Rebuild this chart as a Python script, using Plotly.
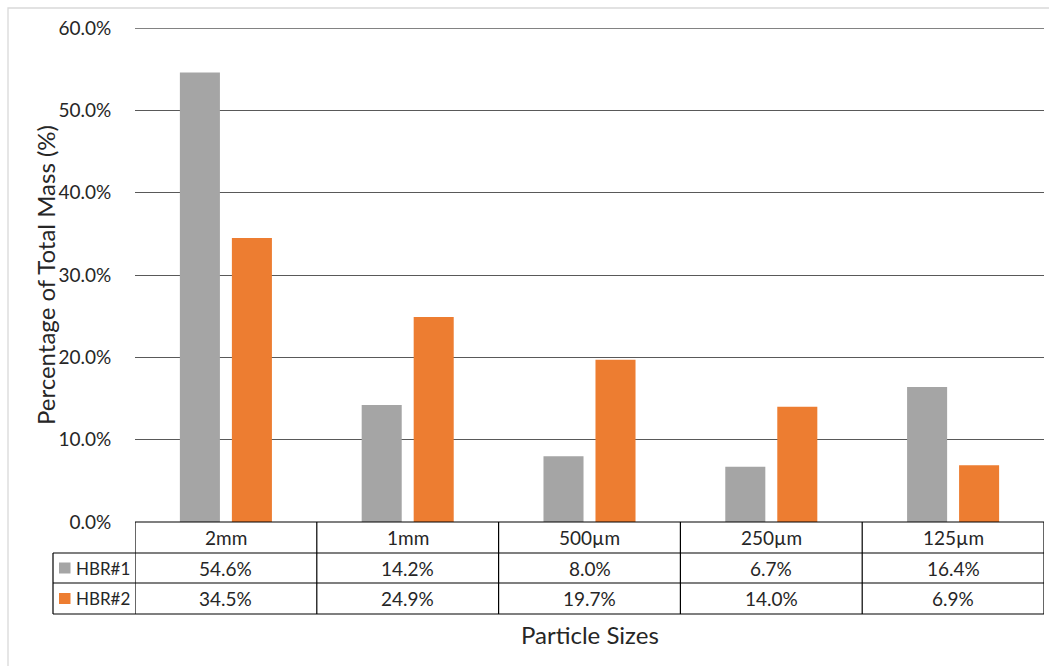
import plotly.graph_objects as go

# Particle size distribution for two samples
categories = ["2mm", "1mm", "500\u00b5m", "250\u00b5m", "125\u00b5m"]
series_names = ["HBR#1", "HBR#2"]
hbr1 = [0.546, 0.142, 0.080, 0.067, 0.164]
hbr2 = [0.345, 0.249, 0.197, 0.140, 0.069]
y_ticks = [0.0, 0.1, 0.2, 0.3, 0.4, 0.5, 0.6]
colors = ["#A5A5A5", "#ED7D31"]

W, H = 1049, 666
L, R, T, B = 135, 5, 28, 144
plot_h = H - T - B
FONT = "Lato, Carlito, Calibri, sans-serif"
TEXT = "#262626"
SMALL = 19
BIG = 24


def py(px):
    """Pixel row (from top) -> paper y."""
    return (H - B - px) / plot_h


def pxx(px):
    """Pixel column -> paper x."""
    return (px - L) / (W - L - R)


x_idx = list(range(len(categories)))

fig = go.Figure()
for name, vals, col in zip(series_names, [hbr1, hbr2], colors):
    fig.add_trace(go.Bar(x=x_idx, y=vals, name=name, marker=dict(color=col, line=dict(width=0)),
                         showlegend=False, hoverinfo="y"))

shapes = []
annotations = []

# top gridline at the end of the value range
shapes.append(dict(type="line", xref="paper", yref="y", x0=0, x1=1, y0=y_ticks[-1], y1=y_ticks[-1],
                   line=dict(color="#595959", width=1.3), layer="below"))

# data table lines
row_edges = [522, 553, 583, 614]
line_style = dict(color="#000000", width=1.2)
shapes.append(dict(type="line", xref="paper", yref="paper", x0=0, x1=1,
                   y0=py(row_edges[0]), y1=py(row_edges[0]), line=line_style))
for r in row_edges[1:]:
    shapes.append(dict(type="line", xref="paper", yref="paper", x0=pxx(53), x1=1,
                       y0=py(r), y1=py(r), line=line_style))
shapes.append(dict(type="line", xref="paper", yref="paper", x0=pxx(53), x1=pxx(53),
                   y0=py(row_edges[1]), y1=py(row_edges[3]), line=line_style))
for i in range(len(categories) + 1):
    shapes.append(dict(type="line", xref="x", yref="paper", x0=i - 0.5, x1=i - 0.5,
                       y0=py(row_edges[0]), y1=py(row_edges[3]), line=line_style))

# table cells
row_centers = [(row_edges[k] + row_edges[k + 1]) / 2 for k in range(3)]
cell_font = dict(size=SMALL, color=TEXT, family=FONT)
for i, cat in enumerate(categories):
    annotations.append(dict(x=i, y=py(row_centers[0]), xref="x", yref="paper", text=cat,
                            xanchor="center", yanchor="middle", showarrow=False, font=cell_font))
    for k, vals in enumerate([hbr1, hbr2]):
        annotations.append(dict(x=i, y=py(row_centers[k + 1]), xref="x", yref="paper",
                                text=f"{vals[i] * 100:.1f}%", xanchor="center", yanchor="middle",
                                showarrow=False, font=cell_font))

# legend keys in the table
for k, (name, col) in enumerate(zip(series_names, colors)):
    yc = row_centers[k + 1]
    shapes.append(dict(type="rect", xref="paper", yref="paper", x0=pxx(59), x1=pxx(70.5),
                       y0=py(yc + 5.5), y1=py(yc - 5.5), fillcolor=col, line=dict(width=0)))
    annotations.append(dict(x=pxx(74), y=py(yc), xref="paper", yref="paper", text=name,
                            xanchor="left", yanchor="middle", showarrow=False,
                            font=dict(size=17, color=TEXT, family=FONT)))

# axis titles
annotations.append(dict(x=pxx(45), y=py(275), xref="paper", yref="paper",
                        text="Percentage of Total Mass (%)", textangle=-90, showarrow=False,
                        xanchor="center", yanchor="middle",
                        font=dict(size=BIG, color=TEXT, family=FONT)))
annotations.append(dict(x=0.5, y=py(634), xref="paper", yref="paper", text="Particle Sizes",
                        xanchor="center", yanchor="middle", showarrow=False,
                        font=dict(size=BIG, color=TEXT, family=FONT)))

# chart area border
shapes.append(dict(type="rect", xref="paper", yref="paper", x0=pxx(8), x1=pxx(1060),
                   y0=py(680), y1=py(8), line=dict(color="#D9D9D9", width=1.3),
                   fillcolor="rgba(0,0,0,0)", layer="below"))

fig.update_layout(
    width=W, height=H,
    margin=dict(l=L, r=R, t=T, b=B),
    paper_bgcolor="white", plot_bgcolor="white",
    barmode="group", bargap=0.428, bargroupgap=0.23,
    font=dict(family=FONT, size=SMALL, color=TEXT),
    xaxis=dict(range=[-0.5, len(categories) - 0.5], showticklabels=False, showgrid=False,
               zeroline=False, showline=False, fixedrange=True),
    yaxis=dict(range=[0, 0.6], tickvals=y_ticks, tickformat=".1%", showgrid=True,
               gridcolor="#595959", gridwidth=1.3, zeroline=False, showline=False,
               ticks="outside", ticklen=19, tickcolor="rgba(0,0,0,0)",
               tickfont=dict(size=SMALL, color=TEXT, family=FONT), fixedrange=True),
    shapes=shapes,
    annotations=annotations,
)

fig.write_html("out.html")
